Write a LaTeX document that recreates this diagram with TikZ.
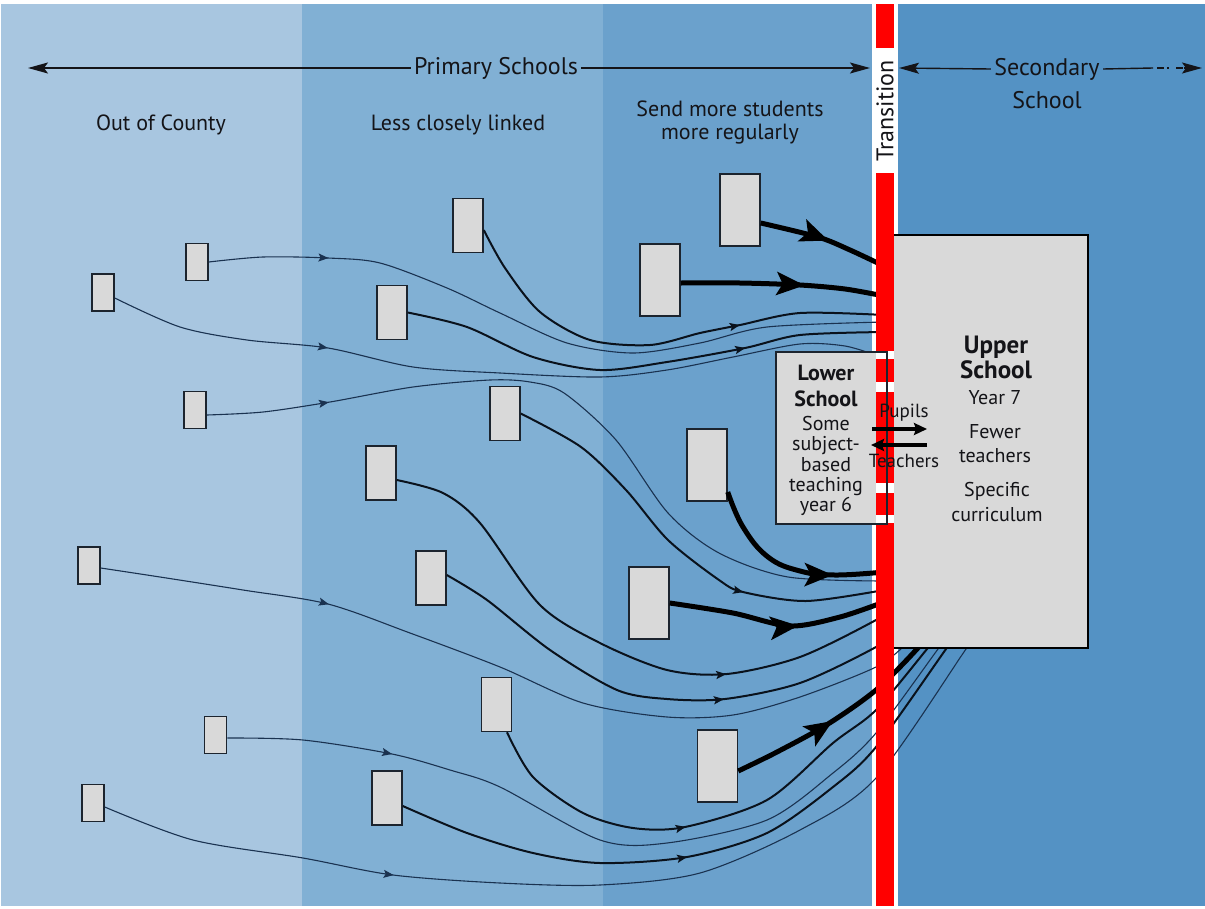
\documentclass[tikz,border=0pt]{standalone}
\usepackage{fontspec}
\setmainfont{PT Sans}
\usetikzlibrary{arrows.meta,decorations.markings}

\definecolor{paneA}{RGB}{168,198,224}
\definecolor{paneB}{RGB}{129,176,212}
\definecolor{paneC}{RGB}{107,161,204}
\definecolor{paneD}{RGB}{84,146,196}
\definecolor{boxgray}{RGB}{217,217,217}
\definecolor{boxline}{RGB}{28,36,46}
\definecolor{thinline}{RGB}{26,50,80}
\definecolor{midline}{RGB}{10,18,28}
\definecolor{transred}{RGB}{255,0,0}
\definecolor{ink}{RGB}{20,20,24}

\tikzset{
  every node/.style={text=ink},
  schoolS/.style={draw=boxline, fill=boxgray, line width=1.5pt, inner sep=0pt,
                  minimum width=22pt, minimum height=37pt},
  schoolM/.style={schoolS, minimum width=30pt, minimum height=54pt},
  schoolL/.style={schoolS, minimum width=40pt, minimum height=72pt},
  thinflow/.style={draw=thinline, line width=1.1pt},
  midflow/.style={draw=midline, line width=2pt},
  thickflow/.style={draw=black, line width=5pt},
  smallhead/.style={postaction={decorate}, decoration={markings,
      mark=at position #1 with {\arrow{Stealth[length=10pt,width=8pt,inset=2pt]}}}},
  bighead/.style={postaction={decorate}, decoration={markings,
      mark=at position #1 with {\arrow{Stealth[length=28pt,width=23pt,inset=6pt]}}}},
  heading/.style={font=\fontsize{24}{28}\selectfont},
  coltitle/.style={font=\fontsize{22}{23}\selectfont, align=center},
  hdrline/.style={draw=ink, line width=1.4pt},
  hdrtip/.style={hdrline, -{Stealth[length=20pt,width=11pt,inset=4pt]}},
  bodytext/.style={font=\fontsize{20}{20.3}\selectfont, align=center, inner sep=0pt},
  titletext/.style={font=\bfseries\fontsize{22}{26}\selectfont, align=center, inner sep=0pt},
  swap/.style={draw=black, line width=4pt, -{Stealth[length=13pt,width=12pt,inset=2pt]}}
}

\begin{document}
\begin{tikzpicture}[x=1pt, y=-1pt]
\useasboundingbox (0,0) rectangle (1205,908);
\fill[white] (0,0) rectangle (1205,908);

% background bands
\fill[paneA] (1,4) rectangle (302,906);
\fill[paneB] (302,4) rectangle (603,906);
\fill[paneC] (603,4) rectangle (872,906);
\fill[paneD] (898,4) rectangle (1205,906);

% headings
\node[heading] (prim) at (496,68) {Primary Schools};
\coordinate (primL) at (28,68);
\coordinate (primR) at (870,68);
\draw[hdrtip] (prim.west) -- (primL);
\draw[hdrtip] (prim.east) -- (primR);

\node[heading] (sec1) at (1047,69) {Secondary};
\node[heading] (sec2) at (1047,100) {School};
\coordinate (secL) at (899,68);
\coordinate (secM) at (1153,68);
\coordinate (secN) at (1184,68);
\coordinate (secR) at (1202,68);
\draw[hdrtip] (sec1.west) -- (secL);
\draw[hdrline] (sec1.east) -- (secM);
\draw[hdrline, dash pattern=on 0pt off 4pt on 7pt off 3pt on 2pt off 3pt] (secM) -- (secN);
\draw[hdrtip] (secN) -- (secR);

\node[coltitle] (occ) at (161,125) {Out of County};
\node[coltitle] (lcl) at (458,125) {Less closely linked};
\node[coltitle] (smr) at (730,122) {Send more students\\more regularly};

% primary schools
\node[schoolS] (bA) at (103,292.5) {};
\node[schoolS] (bB) at (197,262) {};
\node[schoolS] (bC) at (195,410) {};
\node[schoolS] (bD) at (89,565.5) {};
\node[schoolS] (bE) at (215.5,735) {};
\node[schoolS] (bF) at (93,803) {};
\node[schoolM] (b7) at (468,225.5) {};
\node[schoolM] (b8) at (392,312.5) {};
\node[schoolM] (b9) at (505,413.5) {};
\node[schoolM] (b10) at (381,473) {};
\node[schoolM] (b11) at (431,578) {};
\node[schoolM] (b12) at (496.5,704.5) {};
\node[schoolM] (b13) at (387,798) {};
\node[schoolL] (b14) at (740,210) {};
\node[schoolL] (b15) at (660,280) {};
\node[schoolL] (b16) at (707,465) {};
\node[schoolL] (b17) at (649,603) {};
\node[schoolL] (b18) at (717.5,766) {};

% where each flow leaves its school
\coordinate (sA) at ([yshift=-5.5pt]bA.east);
\coordinate (sB) at (bB.east);
\coordinate (sC) at ([yshift=-5pt]bC.east);
\coordinate (sD) at ([yshift=-2.5pt]bD.east);
\coordinate (sE) at ([yshift=-3pt]bE.east);
\coordinate (sF) at ([yshift=-4pt]bF.east);
\coordinate (s7) at ([yshift=-4.5pt]b7.east);
\coordinate (s8) at (b8.east);
\coordinate (s9) at (b9.east);
\coordinate (s10) at ([yshift=-7pt]b10.east);
\coordinate (s11) at ([yshift=3pt]b11.east);
\coordinate (s12) at ([xshift=10.5pt]b12.south);
\coordinate (s13) at ([yshift=-8pt]b13.east);
\coordinate (s14) at ([yshift=-13pt]b14.east);
\coordinate (s15) at ([yshift=-3pt]b15.east);
\coordinate (s16) at ([yshift=-27pt]b16.east);
\coordinate (s17) at (b17.east);
\coordinate (s18) at ([yshift=-5pt]b18.east);

% where each flow reaches the secondary school
\coordinate (eA) at (878,356);
\coordinate (eB) at (884,322);
\coordinate (eC) at (884,581);
\coordinate (eD) at (905,645);
\coordinate (eE) at (958,622);
\coordinate (eF) at (985,622);
\coordinate (e7) at (884,315);
\coordinate (e8) at (884,332);
\coordinate (e9) at (884,590);
\coordinate (e10) at (905,600);
\coordinate (e11) at (905,625);
\coordinate (e12) at (950,620);
\coordinate (e13) at (965,622);
\coordinate (e14) at (884,266);
\coordinate (e15) at (884,296);
\coordinate (e16) at (884,572);
\coordinate (e17) at (884,602);
\coordinate (e18) at (945,615);

% out of county flows
\draw[thinflow, smallhead=120pt] plot[smooth] coordinates {(sB) (263,257) (328,258) (380,263) (447,288) (500,313) (567,343) (633,353) (700,343) (767,327) (eB)};
\draw[thinflow, smallhead=221pt] plot[smooth] coordinates {(sA) (180,327) (247,340) (328,348) (413,367) (500,373) (600,377) (667,370) (733,357) (800,344) (845,346) (eA)};
\draw[thinflow, smallhead=123pt] plot[smooth] coordinates {(sC) (263,412) (330,402) (413,387) (490,380) (530,382) (564,393) (616,440) (668,513) (719,553) (788,577) (eC)};
\draw[thinflow, smallhead=231pt] plot[smooth] coordinates {(sD) (160,577) (243,590) (328,604) (410,633) (500,667) (583,703) (667,717) (733,715) (800,697) (876,667) (eD)};
\draw[thinflow, smallhead=166pt] plot[smooth] coordinates {(sE) (303,740) (392,754) (450,770) (500,787) (600,840) (667,843) (767,820) (833,773) (876,733) (938,649) (eE)};
\draw[thinflow, smallhead=298pt] plot[smooth] coordinates {(sF) (193,840) (303,858) (393,875) (500,883) (600,885) (700,873) (800,830) (876,778) (966,649) (eF)};

% less closely linked flows
\draw[midflow, smallhead=310pt] plot[smooth] coordinates {(s7) (505,268) (540,312) (590,340) (650,345) (700,333) (740,325) (800,313) (e7)};
\draw[midflow, smallhead=349pt] plot[smooth] coordinates {(s8) (467,327) (533,357) (600,370) (667,362) (745,348) (800,335) (e8)};
\draw[midflow, smallhead=289pt] plot[smooth] coordinates {(s9) (581,447) (626,490) (668,540) (719,580) (743,592) (806,601) (e9)};
\draw[midflow, smallhead=401pt] plot[smooth] coordinates {(s10) (443,493) (480,523) (540,605) (600,643) (667,670) (727,674) (800,657) (876,620) (e10)};
\draw[midflow, smallhead=314pt] plot[smooth] coordinates {(s11) (487,600) (550,650) (617,690) (667,699) (725,699) (800,683) (876,647) (e11)};
\draw[midflow, smallhead=219pt] plot[smooth] coordinates {(s12) (533,777) (583,813) (633,828) (685,827) (767,800) (833,743) (876,710) (927,649) (e12)};
\draw[midflow, smallhead=294pt] plot[smooth] coordinates {(s13) (467,833) (533,853) (600,863) (687,857) (767,833) (833,787) (876,747) (946,649) (e13)};

% regular feeder flows
\draw[thickflow, bighead=70pt] plot[smooth] coordinates {(s14) (818,237) (850,250) (e14)};
\draw[thickflow, bighead=124pt] plot[smooth] coordinates {(s15) (740,283) (800,285) (845,289) (e15)};
\draw[thickflow, bighead=146pt] plot[smooth, tension=0.7] coordinates {(s16) (743,527) (768,557) (800,571) (835,575) (e16)};
\draw[thickflow, bighead=131pt] plot[smooth] coordinates {(s17) (733,613) (790,626) (840,617) (e17)};
\draw[thickflow, bighead=107pt] plot[smooth] coordinates {(s18) (777,752) (828,724) (876,690) (917,649) (e18)};

% upper school
\node[fill=boxgray, inner sep=0pt, minimum width=195pt, minimum height=413pt] (upper) at (990.5,441.5) {};
\draw[draw=black, line width=1.5pt] (upper.north west) -- (upper.north east) -- (upper.south east) -- (upper.south west);

% lower school
\node[fill=boxgray, inner sep=0pt, minimum width=111pt, minimum height=172pt] (lower) at (831.5,438) {};
\fill[white] (876,351) rectangle (894,524);

% transition bar
\foreach \ya/\yb in {4/48, 173/351, 359/382, 392/483, 493/515, 523/906}
  \fill[transred] (876,\ya) rectangle (894,\yb);
\node[font=\fontsize{24}{26}\selectfont, rotate=90] (trans) at (885,111) {Transition};

\draw[draw=boxline, line width=1.5pt] (lower.north west) rectangle (lower.south east);

% texts
\node[titletext] (lowT) at (826,386) {Lower\\School};
\node[bodytext] (lowB) at (826,466) {Some\\subject-\\based\\teaching\\year 6};
\node[titletext, font=\bfseries\fontsize{25}{25}\selectfont] (upT) at (996,357) {Upper\\School};
\node[bodytext] (upY) at (995,398) {Year 7};
\node[bodytext, font=\fontsize{20}{24}\selectfont] (upF) at (995,444) {Fewer\\teachers};
\node[bodytext, font=\fontsize{20}{25}\selectfont] (upC) at (997,502) {Specific\\curriculum};

% exchange between lower and upper school
\coordinate (pupA) at (872,429);
\coordinate (pupB) at (927,429);
\coordinate (teaA) at (927,445);
\coordinate (teaB) at (871,445);
\draw[swap] (pupA) -- (pupB);
\draw[swap] (teaA) -- (teaB);
\node[font=\fontsize{19}{20}\selectfont, inner sep=0pt] (pup) at (904,413) {Pupils};
\node[font=\fontsize{19}{20}\selectfont, inner sep=0pt] (tea) at (904,461) {Teachers};
\end{tikzpicture}
\end{document}
